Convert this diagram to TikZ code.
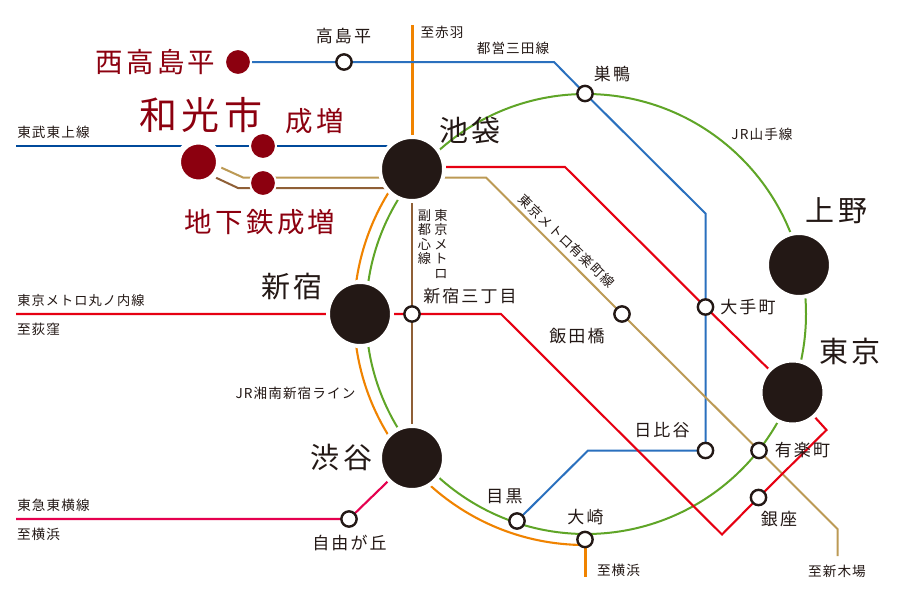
\documentclass[tikz,border=0pt]{standalone}
\usepackage{fontspec}
\setmainfont{Noto Sans CJK JP}
\newfontfamily\jpA[LetterSpace=8]{Noto Sans CJK JP}
\newfontfamily\jpB[LetterSpace=12]{Noto Sans CJK JP}
\pgfdeclarelayer{bg}
\pgfsetlayers{bg,main}
\definecolor{ink}{HTML}{231815}
\definecolor{wine}{HTML}{8C000F}
\definecolor{cOrange}{HTML}{F08300}
\definecolor{cGreen}{HTML}{5FA527}
\definecolor{cBlue}{HTML}{2A70BE}
\definecolor{cNavy}{HTML}{004A9B}
\definecolor{cRed}{HTML}{E60012}
\definecolor{cCrim}{HTML}{E5004F}
\definecolor{cGold}{HTML}{BC9A55}
\definecolor{cBrown}{HTML}{8F5F36}
\tikzset{
  bigst/.style={circle,fill=ink,draw=white,line width=4pt,minimum size=64pt,inner sep=0pt},
  smallst/.style={circle,fill=white,draw=ink,line width=2.4pt,minimum size=15.3pt,inner sep=0pt},
  redA/.style={circle,fill=wine,draw=white,line width=6pt,minimum size=41pt,inner sep=0pt},
  redB/.style={circle,fill=wine,draw=white,line width=2pt,minimum size=26pt,inner sep=0pt},
  linelab/.style={inner sep=0pt,text=ink,font=\jpA\fontsize{13.6}{14}\selectfont},
  stlab/.style={inner sep=0pt,text=ink,font=\jpB\fontsize{17}{17}\selectfont},
  majlab/.style={inner sep=0pt,text=ink,font=\jpB\fontsize{29}{30}\selectfont},
  redlab/.style={inner sep=0pt,text=wine,font=\jpB\fontsize{27.5}{28}\selectfont},
  ln/.style={line width=#1,line join=miter},
  ln/.default=1.9pt
}
\begin{document}
\begin{tikzpicture}[x=1pt,y=-1pt]
\useasboundingbox (0,0) rectangle (900,600);
% ---- big stations
\node[bigst] (ike) at (412,169) {};
\node[bigst] (shj) at (360,314) {};
\node[bigst] (shb) at (412,458) {};
\node[bigst] (uen) at (799,265) {};
\node[bigst] (tok) at (792.5,392.5) {};
% ---- red stations
\node[redA] (wak) at (198.5,162) {};
\node[redB] (nar) at (263,146) {};
\node[redB] (chi) at (263,183) {};
\node[redB] (nis) at (238,62) {};
% ---- small stations
\node[smallst] (tak) at (344,62) {};
\node[smallst] (sug) at (585,93.5) {};
\node[smallst] (ote) at (705.5,307) {};
\node[smallst] (iid) at (622,314) {};
\node[smallst] (san) at (412,314) {};
\node[smallst] (yur) at (759,450.5) {};
\node[smallst] (gin) at (758.5,497.5) {};
\node[smallst] (hib) at (705.5,450.5) {};
\node[smallst] (meg) at (517,521) {};
\node[smallst] (osa) at (585,539.5) {};
\node[smallst] (jiy) at (349,519) {};
% ---- free ends and bends
\coordinate (akaE) at (412,25);
\coordinate (mitaA) at (554,62);
\coordinate (mitaB) at (705.5,213.5);
\coordinate (mitaC) at (588,450.5);
\coordinate (tobuW) at (16,146);
\coordinate (maruW) at (16,314);
\coordinate (maruA) at (501,314);
\coordinate (maruB) at (722,534.5);
\coordinate (maruC) at (826.5,430);
\coordinate (maruD) at (565,167);
\coordinate (maruS) at (412,167);
\coordinate (yuA) at (221,167.5);
\coordinate (yuB) at (243,177.5);
\coordinate (yuC) at (486,177.5);
\coordinate (yuD) at (837.5,529);
\coordinate (yuE) at (837.5,556);
\coordinate (fuA) at (216,177.7);
\coordinate (fuB) at (238,188);
\coordinate (fuC) at (412,188);
\coordinate (tkW) at (16,519);
\coordinate (osaS) at (585,577);
\coordinate (ringC) at (586,314);
\coordinate (orgS) at (585,545);
% ---- connectors
\begin{pgfonlayer}{bg}
\fill[white] (0,0) rectangle (900,600);
\draw[cGreen,ln=2pt] (ringC) circle[radius=220pt];
\draw[cOrange,ln=2.1pt] (orgS) arc[start angle=270,end angle=140,radius=231pt];
\draw[cOrange,ln=3pt] (akaE) -- (ike.center);
\draw[cOrange,ln=3pt] (osa.center) -- (osaS);
\draw[cNavy,ln=2.2pt] (tobuW) -- (ike.center |- tobuW);
\draw[cBlue,ln=2pt] (nis.center) -- (tak.center) -- (mitaA) -- (sug.center) -- (mitaB) -- (ote.center) -- (hib.center) -- (mitaC) -- (meg.center);
\draw[cGold,ln=2pt] (yuA) -- (yuB) -- (chi.center |- yuB) -- (ike.center |- yuB) -- (yuC) -- (iid.center) -- (yur.center) -- (yuD) -- (yuE);
\draw[cBrown,ln=2pt] (fuA) -- (fuB) -- (fuC);
\draw[cBrown,ln=2pt] (ike.center) -- (san.center) -- (shb.center);
\draw[cRed,ln=2.1pt] (maruS) -- (maruD) -- (ote.center) -- (tok.center);
\draw[cRed,ln=2.1pt] (maruW) -- (shj.center) -- (san.center) -- (maruA) -- (maruB) -- (gin.center) -- (maruC) -- (tok.center);
\draw[cCrim,ln=2.1pt] (tkW) -- (jiy.center) -- (shb.center);
\end{pgfonlayer}
% ---- station names
\node[redlab] (l1) at (155.5,62) {西高島平};
\node[inner sep=0pt,text=wine,font=\jpB\fontsize{38}{38}\selectfont] (l2) at (201,115) {和光市};
\node[redlab] (l3) at (314.5,121) {成増};
\node[redlab] (l4) at (260,222) {地下鉄成増};
\node[majlab] (l5) at (470,130) {池袋};
\node[majlab] (l6) at (292,287) {新宿};
\node[majlab] (l7) at (341.5,457) {渋谷};
\node[majlab] (l8) at (836.5,211) {上野};
\node[majlab] (l9) at (850,351) {東京};
\node[stlab] (s1) at (343.5,36) {高島平};
\node[stlab] (s2) at (612,74) {巣鴨};
\node[stlab] (s3) at (748,307) {大手町};
\node[stlab] (s4) at (470,296) {新宿三丁目};
\node[stlab] (s5) at (577,336) {飯田橋};
\node[stlab] (s6) at (662,430) {日比谷};
\node[stlab] (s7) at (802.5,450) {有楽町};
\node[stlab] (s8) at (779,519) {銀座};
\node[stlab] (s9) at (585.5,517) {大崎};
\node[stlab] (s10) at (504.5,496) {目黒};
\node[stlab] (s11) at (349.5,543) {自由が丘};
% ---- line names
\node[linelab] (t1) at (53.5,132) {東武東上線};
\node[linelab,font=\jpA\fontsize{13.2}{14}\selectfont] (t2) at (81,300) {東京メトロ丸ノ内線};
\node[linelab] (t3) at (38.5,329) {至荻窪};
\node[linelab] (t4) at (53.5,505) {東急東横線};
\node[linelab] (t5) at (38.5,534) {至横浜};
\node[linelab] (t6) at (295.5,393) {JR湘南新宿ライン};
\node[linelab] (t7) at (442,32) {至赤羽};
\node[linelab] (t8) at (513,48) {都営三田線};
\node[linelab] (t9) at (762,134) {JR山手線};
\node[linelab] (t10) at (618.5,570) {至横浜};
\node[linelab] (t11) at (837,571) {至新木場};
\node[linelab,rotate=-44,font=\jpA\fontsize{13.2}{14}\selectfont] (t12) at (566.5,241) {東京メトロ有楽町線};
\node[linelab,align=center,font=\fontsize{13.2}{14.5}\selectfont,anchor=north] (t13) at (424.5,209) {副\\都\\心\\線};
\node[linelab,align=center,font=\fontsize{13.2}{14.5}\selectfont,anchor=north] (t14) at (441,209) {東\\京\\メ\\ト\\ロ};
\end{tikzpicture}
\end{document}
